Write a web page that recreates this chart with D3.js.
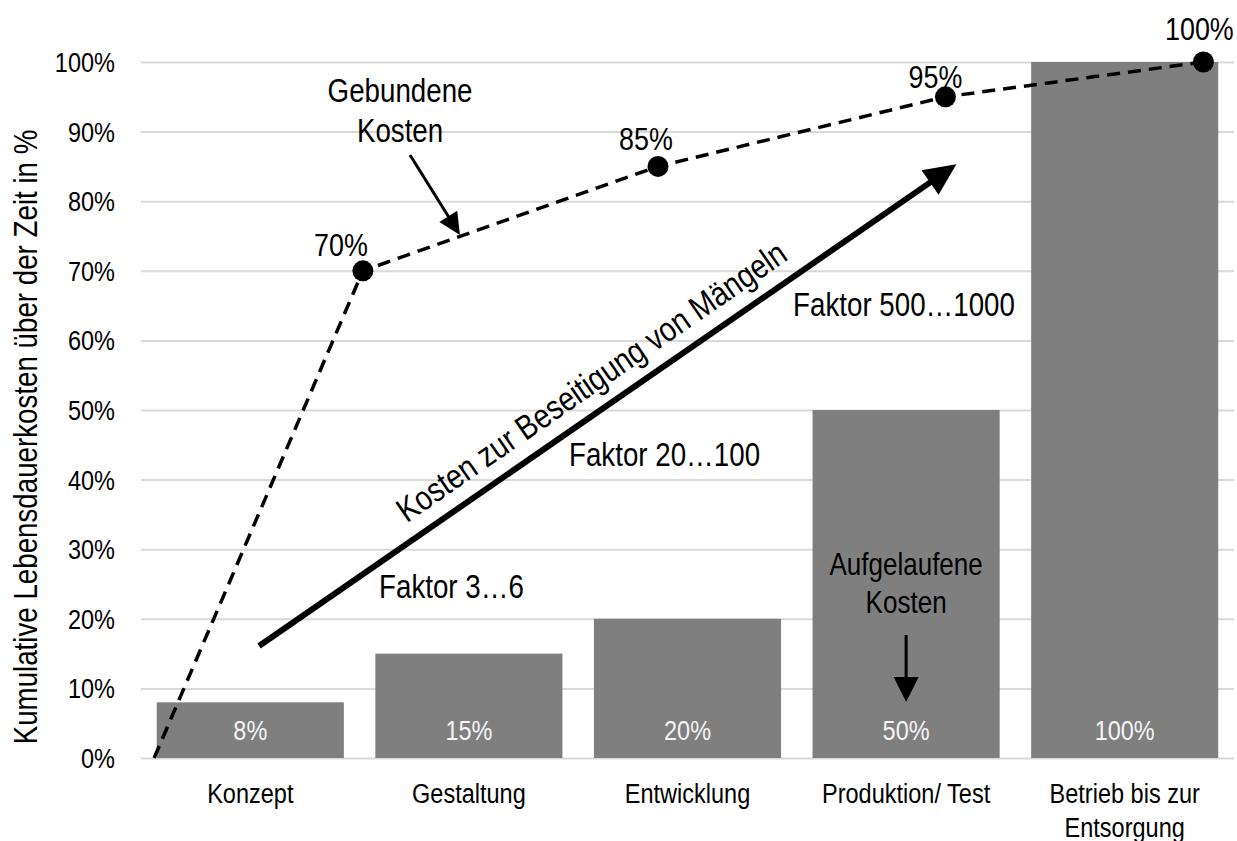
<!DOCTYPE html>
<html>
<head>
<meta charset="utf-8">
<script src="https://cdn.jsdelivr.net/npm/d3@7/dist/d3.min.js"></script>
<style>
  html, body { margin: 0; padding: 0; background: #ffffff; }
  svg { display: block; }
  text { font-family: "Liberation Sans", Arial, sans-serif; fill: #000; }
</style>
</head>
<body>
<svg id="chart" width="1237" height="841"></svg>
<script>
// Lebenszyklus-Phasen (Kategorien der x-Achse)
const categories = ["Konzept", "Gestaltung", "Entwicklung", "Produktion/ Test", "Betrieb bis zur\nEntsorgung"];
// Aufgelaufene Kosten je Phase in %
const accruedCosts = [8, 15, 20, 50, 100];
// Gebundene Kosten: Lage auf der Phasenachse (0 = Beginn "Konzept", 5 = Ende) und Wert in %
const committedPhase = [0.06, 1.015, 2.365, 3.68, 4.86];
const committedCosts = [0, 70, 85, 95, 100];
const committedLabels = ["", "70%", "85%", "95%", "100%"];
// y-Achse
const yTicks = [0, 10, 20, 30, 40, 50, 60, 70, 80, 90, 100];
const yTickLabels = yTicks.map(v => v + "%");
const yTitle = "Kumulative Lebensdauerkosten über der Zeit in %";
// Faktoren der Fehlerbeseitigungskosten
const factorLabels = ["Faktor 3…6", "Faktor 20…100", "Faktor 500…1000"];

// ---- Layout ----
const plot = { left: 141, right: 1234, top: 62, bottom: 758 };
const SX = 0.84; // schmale Schrift: horizontale Stauchung
const svg = d3.select("#chart");

const x = d3.scaleBand()
  .domain(categories)
  .range([plot.left, plot.right])
  .paddingInner(0.144)
  .paddingOuter(0.072);

// durchgehende Phasenachse für Linie und Anmerkungen
const phase = d3.scaleLinear().domain([0, categories.length]).range([plot.left, plot.right]);

const y = d3.scaleLinear().domain([0, 100]).range([plot.bottom, plot.top]);

// Text in schmaler Darstellung, optional mehrzeilig und gedreht
function label(parent, tx, ty, str, size, anchor, opts = {}) {
  const g = parent.append("g")
    .attr("transform", `translate(${tx},${ty}) rotate(${opts.rotate || 0}) scale(${SX},1)`);
  const t = g.append("text")
    .attr("text-anchor", anchor)
    .attr("font-size", size)
    .attr("y", opts.dy || 0);
  if (opts.fill) t.style("fill", opts.fill);
  String(str).split("\n").forEach((line, k) => {
    t.append("tspan").attr("x", 0).attr("dy", k === 0 ? 0 : (opts.lineHeight || size * 1.2)).text(line);
  });
  return g;
}

// Gitterlinien
const yAxis = d3.axisLeft(y).tickValues(yTicks).tickSize(-(plot.right - plot.left)).tickFormat("");
const grid = svg.append("g").attr("transform", `translate(${plot.left},0)`).call(yAxis);
grid.select(".domain").remove();
grid.selectAll(".tick line").attr("stroke", "#d9d9d9").attr("stroke-width", 2);

// y-Tick-Beschriftung
const tickG = svg.append("g");
yTicks.forEach((v, i) => label(tickG, 115, y(v) + 10, yTickLabels[i], 28, "end"));

// y-Achsentitel
label(svg, 37, (plot.top + plot.bottom) / 2 + 27, yTitle, 33, "middle", { rotate: -90 });

// Balken: aufgelaufene Kosten
svg.append("g").selectAll("rect")
  .data(accruedCosts)
  .join("rect")
  .attr("x", (d, i) => x(categories[i]))
  .attr("width", x.bandwidth())
  .attr("y", d => y(d))
  .attr("height", d => y(0) - y(d))
  .attr("fill", "#7f7f7f");

// Werte in den Balken
const valG = svg.append("g");
accruedCosts.forEach((v, i) =>
  label(valG, x(categories[i]) + x.bandwidth() / 2, 740, v + "%", 28, "middle", { fill: "#f4f4f4" }));

// Kategorien
const catG = svg.append("g");
categories.forEach(c =>
  label(catG, x(c) + x.bandwidth() / 2, 803, c, 28, "middle", { lineHeight: 34 }));

// Pfeil mit gefüllter Spitze
function arrow(g, x1, y1, x2, y2, width, headLen, headWidth) {
  const dx = x2 - x1, dy = y2 - y1, len = Math.hypot(dx, dy);
  const ux = dx / len, uy = dy / len;
  const bx = x2 - ux * headLen, by = y2 - uy * headLen;
  g.append("line")
    .attr("x1", x1).attr("y1", y1)
    .attr("x2", bx + ux * 2).attr("y2", by + uy * 2)
    .attr("stroke", "#000").attr("stroke-width", width);
  const nx = -uy, ny = ux;
  g.append("path")
    .attr("d", `M${x2},${y2}L${bx + nx * headWidth / 2},${by + ny * headWidth / 2}L${bx - nx * headWidth / 2},${by - ny * headWidth / 2}Z`)
    .attr("fill", "#000");
}

// Gebundene Kosten: gestrichelte Linie
const line = d3.line().x((d, i) => phase(committedPhase[i])).y(d => y(d));
svg.append("path")
  .datum(committedCosts)
  .attr("d", line)
  .attr("fill", "none")
  .attr("stroke", "#000")
  .attr("stroke-width", 3.5)
  .attr("stroke-dasharray", "13,8");

svg.append("g").selectAll("circle")
  .data(committedCosts.slice(1))
  .join("circle")
  .attr("cx", (d, i) => phase(committedPhase[i + 1]))
  .attr("cy", d => y(d))
  .attr("r", 10.5)
  .attr("fill", "#000");

// Beschriftung der Punkte
const pointLabelOffset = [[0, 0], [-22, -15], [-12, -16], [-10, -9], [-4, -22]];
const ptG = svg.append("g");
committedCosts.forEach((v, i) => {
  if (!committedLabels[i]) return;
  label(ptG, phase(committedPhase[i]) + pointLabelOffset[i][0], y(v) + pointLabelOffset[i][1],
        committedLabels[i], 32, "middle");
});

const ann = svg.append("g");

// "Gebundene Kosten" mit Pfeil
label(ann, phase(1.185), y(94.25), "Gebundene\nKosten", 33, "middle", { lineHeight: 40 });
arrow(ann, phase(1.2306), y(86.64), phase(1.459), y(75.14), 3, 22, 21);

// Kosten zur Beseitigung von Mängeln: Pfeil mit Text
const a0 = [phase(0.54), y(16.1)], a1 = [phase(3.73), y(85.3)];
arrow(ann, a0[0], a0[1], a1[0], a1[1], 6, 32, 30);
const ang = Math.atan2(a1[1] - a0[1], a1[0] - a0[0]) * 180 / Math.PI;
label(ann, (a0[0] + a1[0]) / 2, (a0[1] + a1[1]) / 2, "Kosten zur Beseitigung von Mängeln", 34, "middle",
      { rotate: ang, dy: -17 });

// Faktoren
const factorPos = [[1.089, 23.0], [1.958, 41.95], [2.983, 63.5]];
factorLabels.forEach((f, i) => label(ann, phase(factorPos[i][0]), y(factorPos[i][1]), f, 33, "start"));

// "Aufgelaufene Kosten" mit Pfeil
const cx4 = x(categories[3]) + x.bandwidth() / 2;
label(ann, cx4, y(26.3), "Aufgelaufene\nKosten", 31, "middle", { lineHeight: 38 });
arrow(ann, cx4, y(17.67), cx4, y(8.05), 3, 25, 25);
</script>
</body>
</html>
